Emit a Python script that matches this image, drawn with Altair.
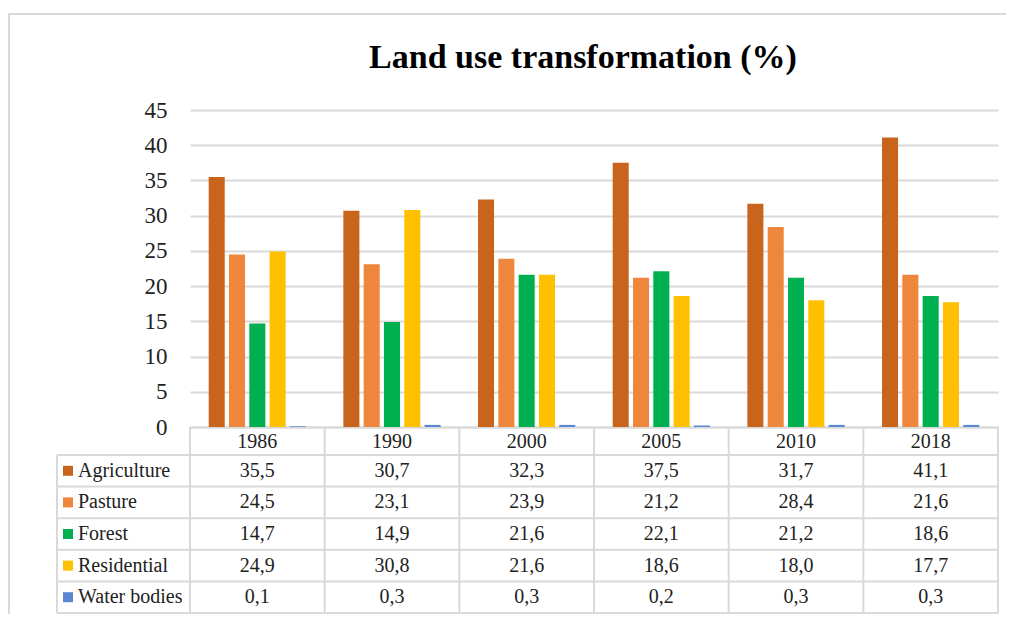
import altair as alt
import pandas as pd

# ---- data ----
years = ["1986", "1990", "2000", "2005", "2010", "2018"]
series = ["Agriculture", "Pasture", "Forest", "Residential", "Water bodies"]
agriculture = [35.5, 30.7, 32.3, 37.5, 31.7, 41.1]
pasture = [24.5, 23.1, 23.9, 21.2, 28.4, 21.6]
forest = [14.7, 14.9, 21.6, 22.1, 21.2, 18.6]
residential = [24.9, 30.8, 21.6, 18.6, 18.0, 17.7]
water_bodies = [0.1, 0.3, 0.3, 0.2, 0.3, 0.3]
y_ticks = [0, 5, 10, 15, 20, 25, 30, 35, 40, 45]
colors = ["#C8641B", "#EE863B", "#00B050", "#FFC000", "#5B86D0"]
title_text = "Land use transformation (%)"

rows = []
for name, vals in zip(series, [agriculture, pasture, forest, residential, water_bodies]):
    for yr, v in zip(years, vals):
        rows.append({"year": yr, "series": name, "value": v})
df = pd.DataFrame(rows)
ser_df = pd.DataFrame({"series": series})
yr_df = pd.DataFrame({"year": years})
one = pd.DataFrame({"k": [0]})

# ---- layout / style ----
W, H = 808, 317
FONT = "'Liberation Serif', 'Times New Roman', Times, serif"
TXT = "#222222"
LINE = "#d9d9d9"
TABLE_TOP, TABLE_BOTTOM = 345, 503
LABEL_LEFT = -133

xscale = alt.Scale(domain=years, paddingInner=0, paddingOuter=0)
xaxis = alt.Axis(title=None, orient="bottom", labelAngle=0, labelFont=FONT,
                 labelFontSize=20, labelColor=TXT, labelPadding=4, ticks=False,
                 domain=True, domainColor=LINE, domainWidth=2, grid=False)
rowscale = alt.Scale(type="band", domain=series, range=[TABLE_TOP, TABLE_BOTTOM],
                     paddingInner=0, paddingOuter=0)
colorscale = alt.Scale(domain=series, range=colors)


def xenc(**kw):
    return alt.X("year:N", scale=xscale, axis=xaxis, sort=years, **kw)


def yrow(**kw):
    return alt.Y("series:N", scale=rowscale, axis=None, sort=series, **kw)


frame = alt.Chart(one).mark_rect(fillOpacity=0, stroke=LINE, strokeWidth=2).encode(
    x=alt.value(-181), x2=alt.value(830), y=alt.value(-96), y2=alt.value(540)
)

title = alt.Chart(one).mark_text(
    text=title_text, font=FONT, fontSize=34, fontWeight="bold", color="#000000",
    align="center", baseline="alphabetic"
).encode(x=alt.value(393), y=alt.value(-42))

bars = alt.Chart(df).mark_bar().encode(
    x=xenc(),
    xOffset=alt.XOffset("series:N", sort=series,
                        scale=alt.Scale(paddingInner=0.21, paddingOuter=0.92)),
    y=alt.Y("value:Q", scale=alt.Scale(domain=[0, 45], nice=False),
            axis=alt.Axis(values=y_ticks, title=None, grid=True, gridColor=LINE,
                          gridWidth=2, domain=False, ticks=False, tickSize=0,
                          labelFont=FONT, labelFontSize=23, labelColor=TXT,
                          labelPadding=23)),
    color=alt.Color("series:N", scale=colorscale, legend=None),
)

vrules = alt.Chart(yr_df).mark_rule(color=LINE, strokeWidth=2).encode(
    x=xenc(bandPosition=0), y=alt.value(317), y2=alt.value(TABLE_BOTTOM)
)
vrule_end = alt.Chart(yr_df).transform_filter(
    alt.datum.year == years[-1]
).mark_rule(color=LINE, strokeWidth=2).encode(
    x=xenc(bandPosition=1), y=alt.value(317), y2=alt.value(TABLE_BOTTOM)
)
hrules = alt.Chart(ser_df).mark_rule(color=LINE, strokeWidth=2).encode(
    y=yrow(bandPosition=0), x=alt.value(LABEL_LEFT), x2=alt.value(W)
)
hrule_end = alt.Chart(ser_df).transform_filter(
    alt.datum.series == series[-1]
).mark_rule(color=LINE, strokeWidth=2).encode(
    y=yrow(bandPosition=1), x=alt.value(LABEL_LEFT), x2=alt.value(W)
)
leftline = alt.Chart(one).mark_rule(color=LINE, strokeWidth=2).encode(
    x=alt.value(LABEL_LEFT), y=alt.value(TABLE_TOP), y2=alt.value(TABLE_BOTTOM)
)

values_text = alt.Chart(df).transform_calculate(
    label="replace(format(datum.value, '.1f'), '.', ',')"
).mark_text(font=FONT, fontSize=20, color=TXT, baseline="middle").encode(
    x=xenc(), y=yrow(), text="label:N"
)

squares = alt.Chart(ser_df).mark_square(size=100, opacity=1).encode(
    x=alt.value(-122), y=yrow(),
    color=alt.Color("series:N", scale=colorscale, legend=None),
)
labels = alt.Chart(ser_df).mark_text(font=FONT, fontSize=20, color=TXT,
                                     align="left", baseline="middle").encode(
    x=alt.value(-112), y=yrow(), text="series:N"
)

chart = alt.layer(
    frame, title, bars, vrules, vrule_end, hrules, hrule_end, leftline,
    values_text, squares, labels
).resolve_scale(y="independent").properties(
    width=W, height=H,
    autosize=alt.AutoSizeParams(type="none"),
    padding={"left": 182, "top": 102, "right": 8, "bottom": 187},
).configure_view(stroke="transparent")

chart.save("out.html", embed_options={"renderer": "svg", "actions": False})
